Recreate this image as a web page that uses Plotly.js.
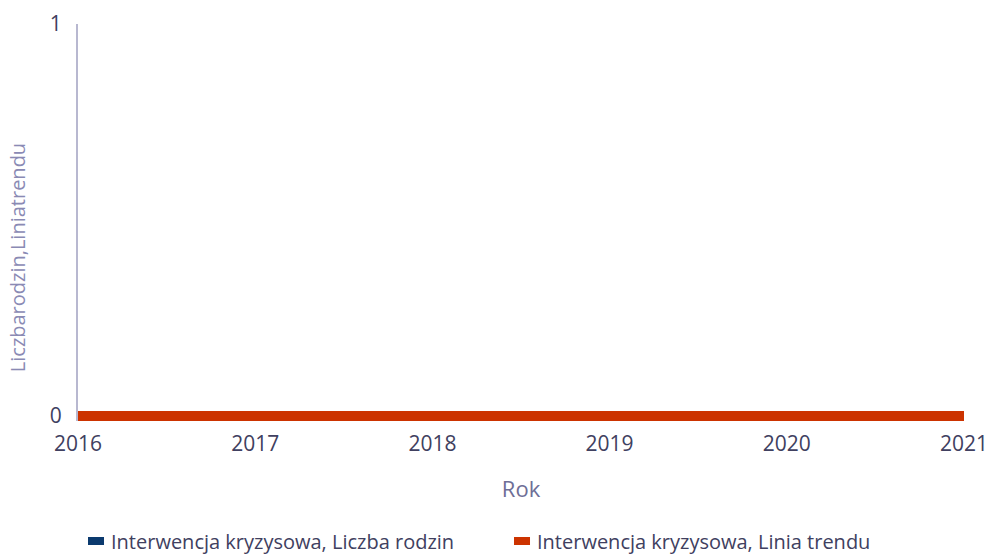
<!DOCTYPE html>
<html>
<head>
<meta charset="utf-8">
<script src="https://cdn.plot.ly/plotly-3.0.1.min.js"></script>
<style>html,body{margin:0;padding:0;background:#fff;}#chart{width:989px;height:556px;}</style>
</head>
<body>
<div id="chart"></div>
<script>
var years = [2016, 2017, 2018, 2019, 2020, 2021];
var liczbaRodzin = [0, 0, 0, 0, 0, 0];
var liniaTrendu = [0, 0, 0, 0, 0, 0];
var seriesNames = ['Interwencja kryzysowa, Liczba rodzin', 'Interwencja kryzysowa, Linia trendu'];
var seriesColors = ['#0b3a6e', '#cc3300'];
var yTickVals = [0, 1];
var yTitle = 'Liczbarodzin,Liniatrendu';
var xTitle = 'Rok';

var font = 'Open Sans, Noto Sans, sans-serif';
var traces = [
  {x: years, y: liczbaRodzin, name: seriesNames[0], type: 'scatter', mode: 'lines',
   line: {color: seriesColors[0], width: 10}},
  {x: years, y: liniaTrendu, name: seriesNames[1], type: 'scatter', mode: 'lines',
   line: {color: seriesColors[1], width: 10}}
];
var layout = {
  width: 989, height: 556,
  margin: {l: 78, r: 25, t: 24, b: 135},
  paper_bgcolor: '#ffffff', plot_bgcolor: '#ffffff',
  font: {family: font, size: 20, color: '#404060'},
  showlegend: true,
  xaxis: {
    range: [2016, 2021], tickvals: years, ticktext: years.map(String),
    showgrid: false, zeroline: false, showline: false,
    ticks: 'outside', ticklen: 4, tickcolor: 'rgba(0,0,0,0)',
    tickfont: {size: 21, color: '#404060'},
    title: {text: xTitle, font: {size: 22, color: '#6e6e96'}, standoff: 25}
  },
  yaxis: {
    range: [-0.01276, 1], tickvals: yTickVals, ticktext: yTickVals.map(String),
    showgrid: true, gridcolor: '#e6e6f0', gridwidth: 1, layer: 'below traces',
    zeroline: false, showline: true, linecolor: '#b8b8d0', linewidth: 2,
    ticks: 'outside', ticklen: 10, tickcolor: 'rgba(0,0,0,0)',
    tickfont: {size: 21, color: '#404060'}
  },
  annotations: [{
    text: yTitle, xref: 'paper', yref: 'paper', x: -0.0675, y: 0.4106,
    xanchor: 'center', yanchor: 'middle', textangle: -90, showarrow: false,
    font: {size: 20, color: '#8a8ab4'}
  }],
  legend: {
    orientation: 'h', xref: 'container', x: 0.0718, xanchor: 'left',
    yref: 'container', y: 0.027, yanchor: 'middle',
    font: {size: 20, color: '#404060'}, entrywidth: 381, entrywidthmode: 'pixels',
    traceorder: 'normal', bgcolor: 'rgba(0,0,0,0)'
  }
};
Plotly.newPlot('chart', traces, layout, {displayModeBar: false, staticPlot: true}).then(function(gd){
  var paths = gd.querySelectorAll('.legend .legendlines path');
  paths.forEach(function(p){ p.setAttribute('d', 'M17,0h16'); p.style.strokeWidth = '8px'; });
});
</script>
</body>
</html>
